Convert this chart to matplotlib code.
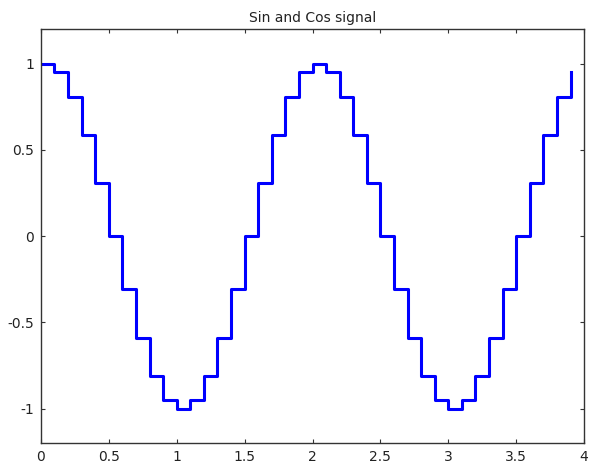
import matplotlib
matplotlib.use("Agg")
import matplotlib.pyplot as plt

# sample times and held signal values (stairs)
t = [0.0, 0.1, 0.2, 0.3, 0.4, 0.5, 0.6, 0.7, 0.8, 0.9,
     1.0, 1.1, 1.2, 1.3, 1.4, 1.5, 1.6, 1.7, 1.8, 1.9,
     2.0, 2.1, 2.2, 2.3, 2.4, 2.5, 2.6, 2.7, 2.8, 2.9,
     3.0, 3.1, 3.2, 3.3, 3.4, 3.5, 3.6, 3.7, 3.8, 3.9]
y = [1.0, 0.951, 0.809, 0.588, 0.309, 0.0, -0.309, -0.588, -0.809, -0.951,
     -1.0, -0.951, -0.809, -0.588, -0.309, 0.0, 0.309, 0.588, 0.809, 0.951,
     1.0, 0.951, 0.809, 0.588, 0.309, 0.0, -0.309, -0.588, -0.809, -0.951,
     -1.0, -0.951, -0.809, -0.588, -0.309, 0.0, 0.309, 0.588, 0.809, 0.951]

xticks = [0, 0.5, 1, 1.5, 2, 2.5, 3, 3.5, 4]
xticklabels = ['0', '0.5', '1', '1.5', '2', '2.5', '3', '3.5', '4']
yticks = [-1, -0.5, 0, 0.5, 1]
yticklabels = ['-1', '-0.5', '0', '0.5', '1']

fig = plt.figure(figsize=(5.93, 4.69), dpi=100)
ax = fig.add_axes([0.069, 0.055, 0.916, 0.883])
ax.step(t, y, where='post', color='#0000ff', linewidth=2.2)

ax.set_xlim(0, 4)
ax.set_ylim(-1.2, 1.2)
ax.set_xticks(xticks)
ax.set_xticklabels(xticklabels)
ax.set_yticks(yticks)
ax.set_yticklabels(yticklabels)
ax.tick_params(direction='in', top=True, right=True, length=3,
               labelsize=10, color='#333333', labelcolor='#222222', pad=5)
for s in ax.spines.values():
    s.set_color('#333333')
    s.set_linewidth(1.0)
ax.set_title('Sin and Cos signal', fontsize=10, color='#222222', pad=5)

fig.savefig('out.png', dpi=100)
